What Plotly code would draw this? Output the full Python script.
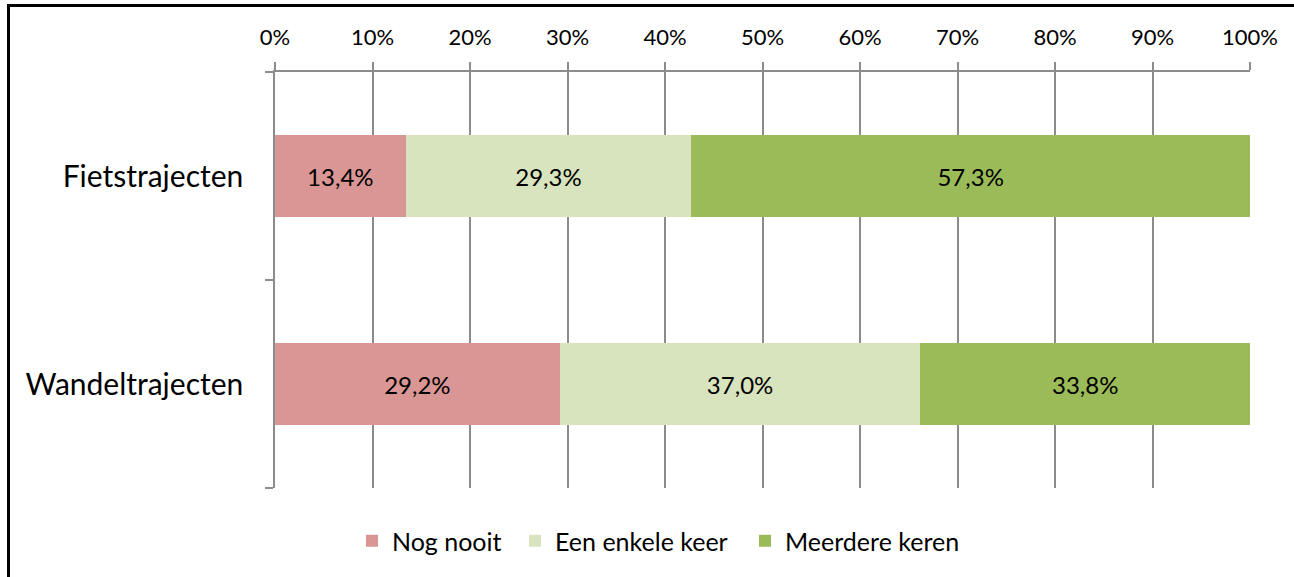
import plotly.graph_objects as go

categories = ["Wandeltrajecten", "Fietstrajecten"]
series_names = ["Nog nooit", "Een enkele keer", "Meerdere keren"]
nog_nooit = [29.2, 13.4]
een_enkele_keer = [37.0, 29.3]
meerdere_keren = [33.8, 57.3]
colors = ["#D99694", "#D7E4BD", "#9BBB59"]
tick_vals = [0, 10, 20, 30, 40, 50, 60, 70, 80, 90, 100]
tick_text = ["0%", "10%", "20%", "30%", "40%", "50%", "60%", "70%", "80%", "90%", "100%"]

W, H = 1294, 577
L, R, T, B = 275, 44, 72, 89
pw, ph = W - L - R, H - T - B

FONT = "Lato, Calibri, sans-serif"

legend_ids = ["legend", "legend2", "legend3"]
legend_left_px = [352, 515, 745]

fig = go.Figure()
for name, vals, c, lg in zip(series_names, [nog_nooit, een_enkele_keer, meerdere_keren], colors, legend_ids):
    fig.add_trace(go.Bar(
        y=categories, x=vals, name=name, orientation="h",
        marker=dict(color=c, line=dict(width=0)),
        texttemplate="%{x:.1f}%", textposition="inside", insidetextanchor="middle",
        textfont=dict(size=24, color="black", family=FONT),
        hoverinfo="skip", legend=lg,
    ))

def px2x(px):
    return (px - L) / pw

def py2y(py):
    return (H - B - py) / ph

legends = {}
for lg, lx in zip(legend_ids, legend_left_px):
    legends[lg] = dict(
        orientation="h", x=px2x(lx), xanchor="left", y=py2y(541), yanchor="middle",
        font=dict(size=25, family=FONT), itemwidth=30, bgcolor="rgba(0,0,0,0)",
    )

fig.update_layout(
    width=W, height=H,
    barmode="stack", bargap=0.61,
    separators=",.",
    plot_bgcolor="white", paper_bgcolor="white",
    margin=dict(l=L, r=R, t=T, b=B, autoexpand=False),
    font=dict(family=FONT, color="black"),
    xaxis=dict(
        side="top", range=[0, 100], tickvals=tick_vals, ticktext=tick_text,
        showgrid=True, gridcolor="#8C8C8C", gridwidth=1.5,
        showline=True, linecolor="#8C8C8C", linewidth=1.5,
        ticks="outside", ticklen=8, tickcolor="#8C8C8C", tickwidth=1.5,
        tickfont=dict(size=22, family=FONT), zeroline=False,
        ticklabelstandoff=8,
    ),
    yaxis=dict(
        type="category", tickson="boundaries",
        showline=True, linecolor="#8C8C8C", linewidth=1.5,
        ticks="outside", ticklen=8, tickcolor="#8C8C8C", tickwidth=1.5,
        tickfont=dict(size=30, family=FONT), showgrid=False,
        ticklabelstandoff=24,
    ),
    showlegend=True,
    shapes=[
        dict(type="line", xref="paper", yref="paper", x0=px2x(8), x1=px2x(1400),
             y0=py2y(5.5), y1=py2y(5.5), line=dict(color="black", width=3)),
        dict(type="line", xref="paper", yref="paper", x0=px2x(8.5), x1=px2x(8.5),
             y0=py2y(4), y1=py2y(700), line=dict(color="black", width=3)),
    ],
    **legends,
)

fig.write_html(
    "out.html",
    config={"displayModeBar": False},
    post_script="document.body.style.margin='0';document.body.style.overflow='hidden';",
)
